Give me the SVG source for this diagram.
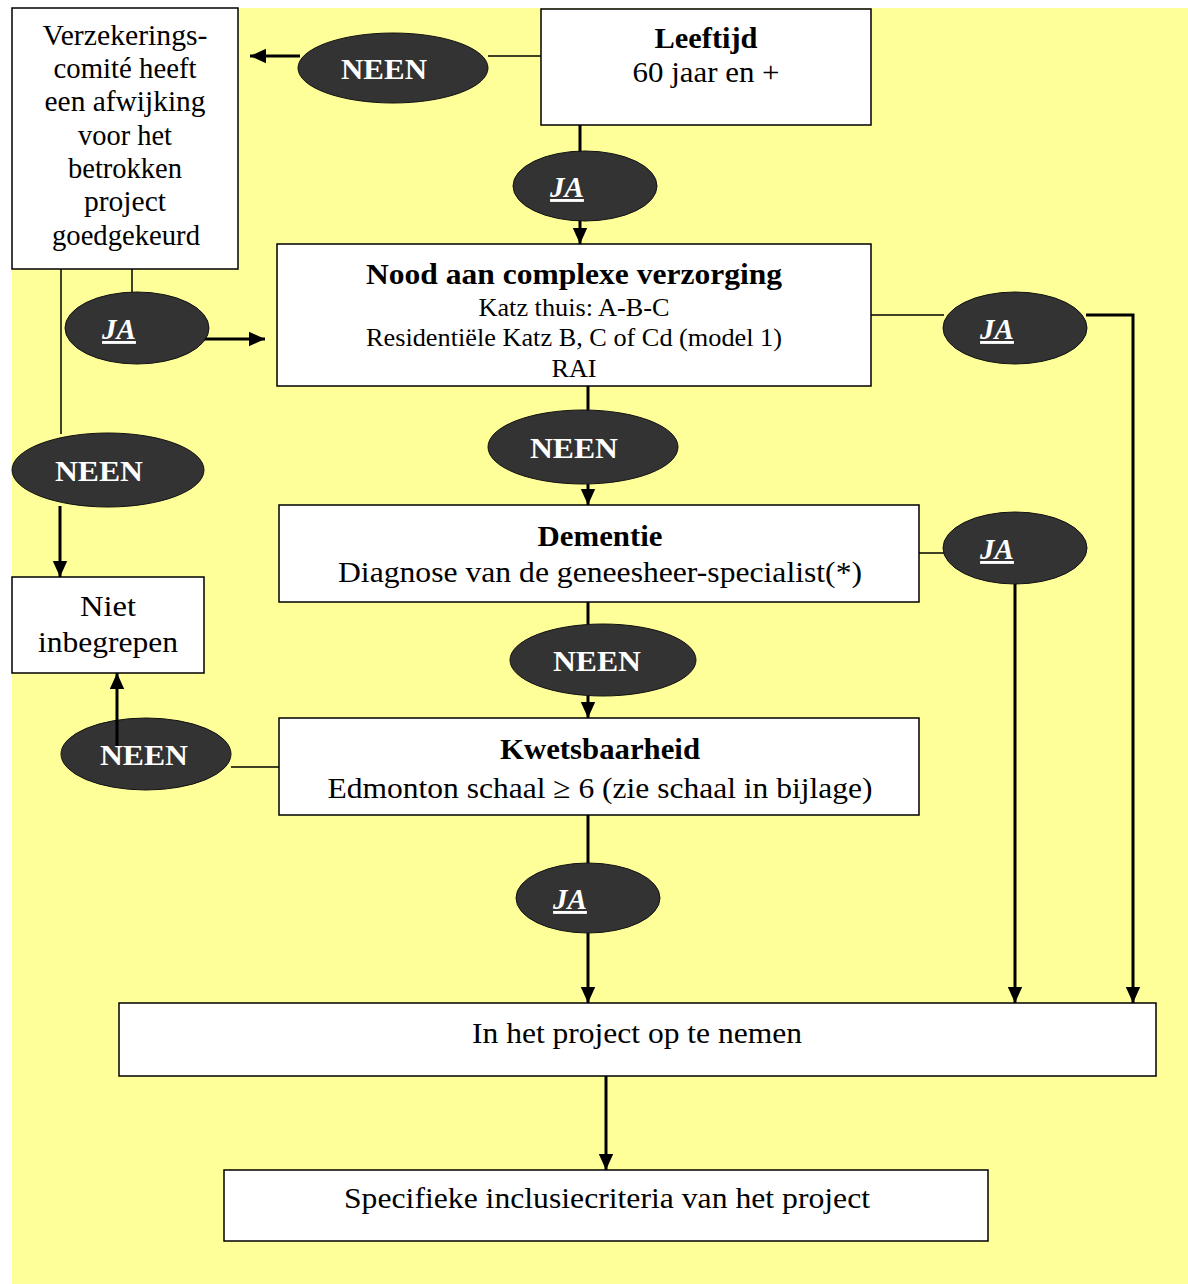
<svg xmlns="http://www.w3.org/2000/svg" width="1188" height="1284" viewBox="0 0 1188 1284">
<defs>
<marker id="ahb" viewBox="0 0 10 10" refX="10" refY="5" markerWidth="16" markerHeight="16" orient="auto" markerUnits="userSpaceOnUse">
<path d="M0,0.5 L10,5 L0,9.5 z" fill="#000"/>
</marker>
</defs>
<style>
.box{fill:#fff;stroke:#000;stroke-width:1.5}
.ell{fill:#333;stroke:#111;stroke-width:1}
.ln{fill:none;stroke:#000;stroke-width:1.5}
.lnb{fill:none;stroke:#000;stroke-width:3}
.t{font-family:"Liberation Serif","Times New Roman",serif;fill:#000;text-anchor:middle}
.b{font-weight:bold}
.neen{font-family:"Liberation Serif","Times New Roman",serif;font-weight:bold;font-size:30px;fill:#fff;text-anchor:middle}
.ja{font-family:"Liberation Serif","Times New Roman",serif;font-weight:bold;font-style:italic;font-size:29px;fill:#fff;text-anchor:middle;text-decoration:underline}
</style>
<rect x="0" y="0" width="1188" height="1284" fill="#fff"/>
<rect x="12" y="8" width="1176" height="1276" fill="#ffff99"/>

<g id="connectors">
<line class="ln" x1="541" y1="56" x2="488" y2="56"/>
<line class="lnb" x1="300" y1="56" x2="250" y2="56" marker-end="url(#ahb)"/>
<line class="lnb" x1="580" y1="125" x2="580" y2="152"/>
<line class="lnb" x1="580" y1="220" x2="580" y2="244" marker-end="url(#ahb)"/>
<line class="ln" x1="871" y1="315" x2="944" y2="315"/>
<polyline class="lnb" points="1086,315 1133,315 1133,1003" marker-end="url(#ahb)"/>
<line class="ln" x1="132" y1="269" x2="132" y2="293"/>
<line class="lnb" x1="182" y1="339" x2="265" y2="339" marker-end="url(#ahb)"/>
<line class="ln" x1="61" y1="269" x2="61" y2="434"/>
<line class="lnb" x1="60" y1="506" x2="60" y2="577" marker-end="url(#ahb)"/>
<line class="lnb" x1="588" y1="386" x2="588" y2="411"/>
<line class="lnb" x1="588" y1="484" x2="588" y2="505" marker-end="url(#ahb)"/>
<line class="ln" x1="919" y1="553" x2="944" y2="553"/>
<line class="lnb" x1="1015" y1="584" x2="1015" y2="1003" marker-end="url(#ahb)"/>
<line class="lnb" x1="588" y1="602" x2="588" y2="624"/>
<line class="lnb" x1="588" y1="696" x2="588" y2="718" marker-end="url(#ahb)"/>
<line class="ln" x1="279" y1="767" x2="231" y2="767"/>
<line class="lnb" x1="588" y1="815" x2="588" y2="863"/>
<line class="lnb" x1="588" y1="933" x2="588" y2="1003" marker-end="url(#ahb)"/>
<line class="lnb" x1="606" y1="1076" x2="606" y2="1170" marker-end="url(#ahb)"/>
</g>

<g id="verzekering">
<rect class="box" x="12" y="8" width="226" height="261"/>
<text class="t" font-size="29" x="125" y="45" textLength="165" lengthAdjust="spacingAndGlyphs">Verzekerings-</text>
<text class="t" font-size="29" x="125" y="78" textLength="143" lengthAdjust="spacingAndGlyphs">comité heeft</text>
<text class="t" font-size="29" x="125" y="111" textLength="161" lengthAdjust="spacingAndGlyphs">een afwijking</text>
<text class="t" font-size="29" x="125" y="145" textLength="94" lengthAdjust="spacingAndGlyphs">voor het</text>
<text class="t" font-size="29" x="125" y="178" textLength="114" lengthAdjust="spacingAndGlyphs">betrokken</text>
<text class="t" font-size="29" x="125" y="211" textLength="82" lengthAdjust="spacingAndGlyphs">project</text>
<text class="t" font-size="29" x="126" y="245" textLength="148" lengthAdjust="spacingAndGlyphs">goedgekeurd</text>
</g>

<g id="leeftijd">
<rect class="box" x="541" y="9" width="330" height="116"/>
<text class="t b" font-size="30" x="706" y="48" textLength="103" lengthAdjust="spacingAndGlyphs">Leeftijd</text>
<text class="t" font-size="30" x="706" y="82" textLength="147" lengthAdjust="spacingAndGlyphs">60 jaar en +</text>
</g>

<g id="nood">
<rect class="box" x="277" y="244" width="594" height="142"/>
<text class="t b" font-size="30" x="574" y="284" textLength="416" lengthAdjust="spacingAndGlyphs">Nood aan complexe verzorging</text>
<text class="t" font-size="26" x="574" y="316" textLength="191" lengthAdjust="spacingAndGlyphs">Katz thuis: A-B-C</text>
<text class="t" font-size="26" x="574" y="346" textLength="416" lengthAdjust="spacingAndGlyphs">Residentiële Katz B, C of Cd (model 1)</text>
<text class="t" font-size="26" x="574" y="377" textLength="45" lengthAdjust="spacingAndGlyphs">RAI</text>
</g>

<g id="dementie">
<rect class="box" x="279" y="505" width="640" height="97"/>
<text class="t b" font-size="30" x="600" y="546" textLength="125" lengthAdjust="spacingAndGlyphs">Dementie</text>
<text class="t" font-size="30" x="600" y="582" textLength="524" lengthAdjust="spacingAndGlyphs">Diagnose van de geneesheer-specialist(*)</text>
</g>

<g id="kwetsbaarheid">
<rect class="box" x="279" y="718" width="640" height="97"/>
<text class="t b" font-size="30" x="600" y="759" textLength="200" lengthAdjust="spacingAndGlyphs">Kwetsbaarheid</text>
<text class="t" font-size="30" x="600" y="798" textLength="545" lengthAdjust="spacingAndGlyphs">Edmonton schaal ≥ 6 (zie schaal in bijlage)</text>
</g>

<g id="niet">
<rect class="box" x="12" y="577" width="192" height="96"/>
<text class="t" font-size="30" x="108" y="616" textLength="56" lengthAdjust="spacingAndGlyphs">Niet</text>
<text class="t" font-size="30" x="108" y="652" textLength="140" lengthAdjust="spacingAndGlyphs">inbegrepen</text>
</g>

<g id="opnemen">
<rect class="box" x="119" y="1003" width="1037" height="73"/>
<text class="t" font-size="30" x="637" y="1043" textLength="330" lengthAdjust="spacingAndGlyphs">In het project op te nemen</text>
</g>

<g id="specifieke">
<rect class="box" x="224" y="1170" width="764" height="71"/>
<text class="t" font-size="30" x="607" y="1208" textLength="526" lengthAdjust="spacingAndGlyphs">Specifieke inclusiecriteria van het project</text>
</g>

<g id="neen1"><ellipse class="ell" cx="393" cy="68" rx="95" ry="35"/><text class="neen" x="384" y="79" textLength="86" lengthAdjust="spacingAndGlyphs">NEEN</text></g>
<g id="ja1"><ellipse class="ell" cx="585" cy="186" rx="72" ry="35"/><text class="ja" x="567" y="197">JA</text></g>
<g id="ja2"><ellipse class="ell" cx="1015" cy="328" rx="72" ry="36"/><text class="ja" x="997" y="339">JA</text></g>
<g id="ja3"><ellipse class="ell" cx="137" cy="328" rx="72" ry="36"/><text class="ja" x="119" y="339">JA</text></g>
<g id="neen2"><ellipse class="ell" cx="108" cy="470" rx="96" ry="37"/><text class="neen" x="99" y="481" textLength="88" lengthAdjust="spacingAndGlyphs">NEEN</text></g>
<g id="neen3"><ellipse class="ell" cx="583" cy="447" rx="95" ry="37"/><text class="neen" x="574" y="458" textLength="88" lengthAdjust="spacingAndGlyphs">NEEN</text></g>
<g id="ja4"><ellipse class="ell" cx="1015" cy="548" rx="72" ry="36"/><text class="ja" x="997" y="559">JA</text></g>
<g id="neen4"><ellipse class="ell" cx="603" cy="660" rx="93" ry="36"/><text class="neen" x="597" y="671" textLength="88" lengthAdjust="spacingAndGlyphs">NEEN</text></g>
<g id="neen5"><ellipse class="ell" cx="146" cy="754" rx="85" ry="36"/><text class="neen" x="144" y="765" textLength="88" lengthAdjust="spacingAndGlyphs">NEEN</text></g>
<g id="ja5"><ellipse class="ell" cx="588" cy="898" rx="72" ry="35"/><text class="ja" x="570" y="909">JA</text></g>
<g id="connectors-over">
<line class="lnb" x1="117" y1="746" x2="117" y2="673" marker-end="url(#ahb)"/>
</g>
</svg>
